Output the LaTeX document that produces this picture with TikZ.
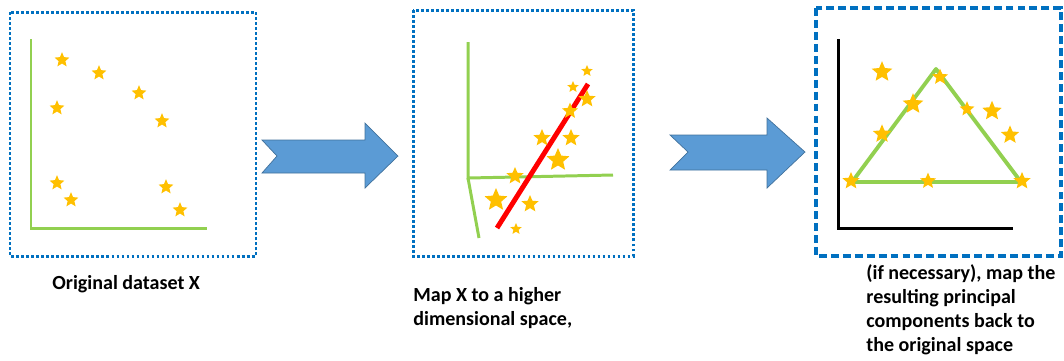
\documentclass[tikz,border=0pt]{standalone}
\usepackage{fontspec}
\setmainfont{Carlito}
\usepackage{xcolor}
\usetikzlibrary{shapes.geometric,positioning}

\definecolor{panelblue}{RGB}{0,112,192}
\definecolor{arrowblue}{RGB}{91,155,213}
\definecolor{arrowedge}{RGB}{65,113,156}
\definecolor{axisgreen}{RGB}{146,208,80}
\definecolor{stargold}{RGB}{255,192,0}

\begin{document}
\begin{tikzpicture}[
        x=0.02cm, y=-0.02cm,
        dotbox/.style={draw=panelblue, line width=1.7pt, dash pattern=on 1.6pt off 1.25pt},
        dashbox/.style={draw=panelblue, line width=2pt, dash pattern=on 4.5pt off 2.3pt},
        axis/.style={draw=axisgreen, line width=1.7pt},
        blockarrow/.style={fill=arrowblue, draw=arrowedge, line width=0.4pt},
        gstar/.style={star, star points=5, star point ratio=2.2, fill=stargold, inner sep=0pt, minimum size=#1*0.024cm},
        caption/.style={font=\bfseries\fontsize{11.4}{13.8}\selectfont, align=left, anchor=north west, inner sep=0pt}
    ]
        \useasboundingbox (0,0) rectangle (1064,360);

        % Panels
        \draw[dotbox] (10,12) rectangle (256,256);
        \draw[dotbox] (413,10) rectangle (633,256);
        \draw[dashbox] (816,8) rectangle (1061,256);

        % Original data
        \draw[axis] (31,39) -- (31,228) -- (207,228);
        \foreach \px/\py [count=\i] in {62/60, 99/73, 139/93, 57/108, 162/121, 57/183, 71/200, 166/187, 180/210}
            \node[gstar=13] (orig\i) at (\px,\py) {};

        % Feature space
        \draw[axis] (468,42) -- (468,178) -- (613,175);
        \draw[axis] (468,178) -- (479,238);
        \draw[red, line width=2.8pt] (497,228) -- (588,84);
        \foreach \px/\py/\sz [count=\i] in {587/71/10, 573/87/10, 587/99/15, 570/111/14, 542/138/15, 571/138/15,
                558/160/20, 515/176/15, 496/200/20, 530/204/15, 516/229/10}
            \node[gstar=\sz] (feat\i) at (\px,\py) {};

        % Back to original space
        \draw[black, line width=1.7pt] (838,39) -- (838,228) -- (1013,228);
        \draw[axis, line width=2.2pt, line join=round] (852,182) -- (936,69) -- (1021,182) -- cycle;
        \foreach \px/\py/\sz [count=\i] in {882/72/18, 940/77/14, 913/104/18, 967/109/13, 992/111/17, 882/134/16,
                1010/135/16, 851/181/15, 928/181/14, 1022/181/15}
            \node[gstar=\sz] (back\i) at (\px,\py) {};

        % Block arrows
        \draw[blockarrow] (262,140) -- (365,140) -- (365,123) -- (398,156) -- (365,188) -- (365,173) -- (262,173) -- (277,156) -- cycle;
        \draw[blockarrow] (670,135) -- (767,135) -- (767,118) -- (805,152) -- (767,188) -- (767,170) -- (670,170) -- (688,152) -- cycle;

        % Captions
        \node[caption] (capOrig) at (52,275) {Original dataset X};
        \node[caption] (capMap) at (413,287) {Map X to a higher\\dimensional space,};
        \node[caption] (capBack) at (866,264) {(if necessary), map the\\resulting principal\\components back to\\the original space};
    \end{tikzpicture}
\end{document}
